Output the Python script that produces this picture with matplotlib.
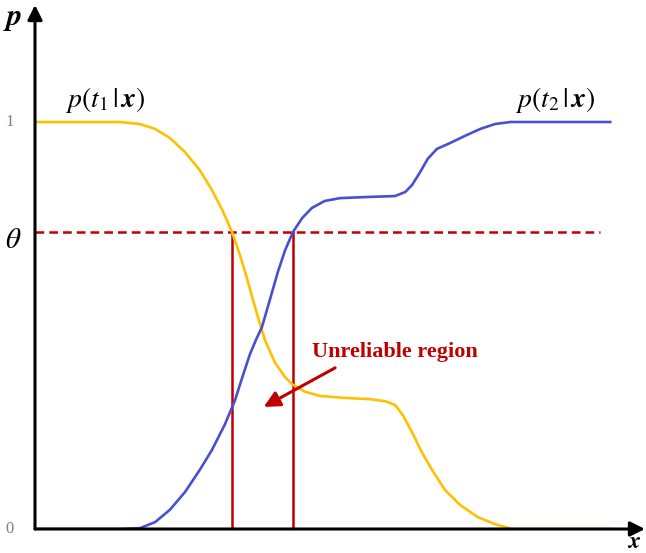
import matplotlib
matplotlib.use("Agg")
import matplotlib.pyplot as plt
import numpy as np

plt.rcParams["mathtext.fontset"] = "stix"

# p(t1|x) - gelbe Kurve
x_t1 = [0, 1.39, 1.72, 1.97, 2.21, 2.46, 2.70, 2.90, 3.07, 3.23, 3.36, 3.46, 3.56,
        3.66, 3.77, 3.93, 4.10, 4.23, 4.43, 4.67, 5.08, 5.49, 5.74, 5.90, 6.03,
        6.18, 6.34, 6.51, 6.72, 6.97, 7.26, 7.54, 7.82, 9.43]
p_t1 = [1.0, 1.0, 0.995, 0.983, 0.961, 0.926, 0.882, 0.833, 0.784, 0.730, 0.673,
        0.624, 0.570, 0.518, 0.464, 0.410, 0.373, 0.354, 0.337, 0.327, 0.322,
        0.319, 0.314, 0.305, 0.280, 0.238, 0.189, 0.145, 0.096, 0.059, 0.029,
        0.012, 0.0, 0.0]

# p(t2|x) - blaue Kurve
x_t2 = [0, 1.39, 1.72, 1.97, 2.21, 2.46, 2.70, 2.90, 3.11, 3.28, 3.41, 3.52, 3.62,
        3.72, 3.85, 3.98, 4.10, 4.23, 4.38, 4.54, 4.75, 5.00, 5.49, 5.90, 6.07,
        6.18, 6.31, 6.44, 6.59, 6.80, 7.05, 7.30, 7.54, 7.79, 9.43]
p_t2 = [0.0, 0.0, 0.002, 0.017, 0.047, 0.091, 0.145, 0.194, 0.256, 0.317, 0.378,
        0.428, 0.464, 0.496, 0.563, 0.631, 0.685, 0.730, 0.764, 0.789, 0.806,
        0.813, 0.816, 0.818, 0.828, 0.845, 0.876, 0.910, 0.934, 0.948, 0.966,
        0.983, 0.995, 1.0, 1.0]

theta = 0.73
x_low, x_high = 3.23, 4.23
x_max, p_max = 10.0, 1.2875

fig = plt.figure(figsize=(6.46, 5.53), dpi=100)
ax = fig.add_axes([35 / 646, 24 / 553, 610 / 646, 524 / 553])
ax.set_xlim(0, x_max)
ax.set_ylim(0, p_max)
ax.axis("off")

red = "#C00000"

# Schwellenwert und Grenzen
ax.plot([0, 9.26], [theta, theta], color=red, lw=1.8, dashes=(3.5, 2))
ax.plot([x_low, x_low], [0, theta], color=red, lw=1.8)
ax.plot([x_high, x_high], [0, theta], color=red, lw=1.8)

# Kurven
ax.plot(x_t1, p_t1, color="#FFC000", lw=1.9, solid_joinstyle="round")
ax.plot(x_t2, p_t2, color="#4A4FD0", lw=1.9, solid_joinstyle="round")

# Achsen mit Pfeilen
arrow = dict(arrowstyle="-|>", color="black", lw=2.2, mutation_scale=22,
             shrinkA=0, shrinkB=0)
ax.annotate("", xy=(x_max, 0), xytext=(0, 0), arrowprops=arrow, annotation_clip=False)
ax.annotate("", xy=(0, p_max), xytext=(0, 0), arrowprops=arrow, annotation_clip=False)

# Beschriftungen
ax.text(-0.36, 1.255, r"$\boldsymbol{p}$", fontsize=22, ha="center", va="center")
ax.text(9.82, -0.047, r"$\boldsymbol{x}$", fontsize=17, ha="center", va="baseline")
ax.text(-0.36, 0.71, r"$\theta$", fontsize=21, ha="center", va="center")
ax.text(-0.42, 1.0, "1", fontsize=12, color="#808080", family="Liberation Serif",
        ha="center", va="center")
ax.text(-0.42, 0.0, "0", fontsize=12, color="#808080", family="Liberation Serif",
        ha="center", va="center")
ax.text(1.15, 1.054, r"$p(t_1\,|\,\boldsymbol{x})$", fontsize=20, ha="center", va="center")
ax.text(8.52, 1.054, r"$p(t_2\,|\,\boldsymbol{x})$", fontsize=20, ha="center", va="center")

ax.annotate("", xy=(3.75, 0.30), xytext=(4.92, 0.396),
            arrowprops=dict(arrowstyle="-|>", color=red, lw=2.2, mutation_scale=24,
                            shrinkA=0, shrinkB=0))
ax.text(5.90, 0.435, "Unreliable region", fontsize=16, fontweight="bold",
        color=red, family="Liberation Serif", ha="center", va="center")

fig.savefig("out.png", dpi=100)
